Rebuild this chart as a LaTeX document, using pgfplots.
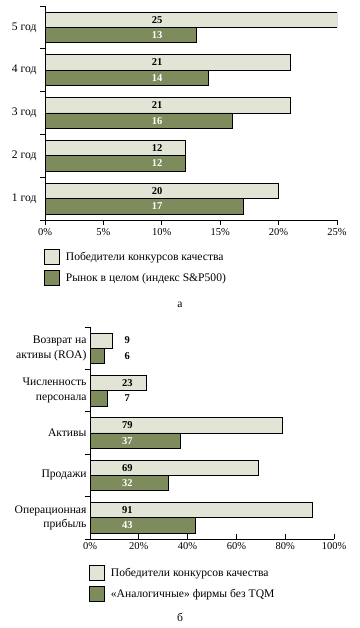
\documentclass[border=0pt]{standalone}
\usepackage{fontspec}
\setmainfont{Liberation Serif}
\usepackage{pgfplots}
\pgfplotsset{compat=1.18}
\definecolor{lightbar}{HTML}{E2E5D5}
\definecolor{darkbar}{HTML}{7E8B5C}
\newcommand\fs{\fontsize{10.5}{13}\selectfont}
\newcommand\fl{\fontsize{11.6}{14.5}\selectfont}
\pgfplotsset{
  mystyle/.style={
    scale only axis,
    ymin=0.5, ymax=5.5, xmin=0,
    axis x line=bottom, axis y line=left,
    axis line style={-, line width=0.8pt},
    ytick={1,2,3,4,5}, minor ytick={0.5,1.5,...,5.5},
    major y tick style={draw=none},
    minor y tick style={line width=0.8pt, black},
    minor tick length=5pt, major tick length=5pt,
    major x tick style={line width=0.8pt, black},
    xticklabel style={font=\fs},
    yticklabel style={font=\fl},
    /pgf/number format/assume math mode=true,
    xticklabel={\pgfmathprintnumber{\tick}\%},
    legend style={draw=none, fill=none, font=\fl, legend cell align=left,
      at={(axis description cs:0,0)}, anchor=north west, row sep=5pt,
      /tikz/every odd column/.append style={column sep=4pt}},
  },
  lbar/.style={xbar, bar width=0.36, bar shift=0.18, fill=lightbar, draw=black, line width=0.7pt,
    legend image code/.code={\draw[fill=lightbar,draw=black,line width=0.7pt] (0pt,-7.5pt) rectangle (15pt,7.5pt);}},
  dbar/.style={xbar, bar width=0.36, bar shift=-0.18, fill=darkbar, draw=black, line width=0.7pt,
    legend image code/.code={\draw[fill=darkbar,draw=black,line width=0.7pt] (0pt,-7.5pt) rectangle (15pt,7.5pt);}},
  labs/.style={draw=none, mark=none, forget plot, nodes near coords, point meta=explicit symbolic,
    every node near coord/.append style={anchor=center, font=\fs\bfseries, text=#1}},
}
\begin{document}
\begin{tikzpicture}
\useasboundingbox (0,0) rectangle (359pt,628pt);
\begin{axis}[mystyle,
  at={(45pt,408pt)}, anchor=south west, width=292pt, height=214pt,
  xmax=25, xtick={0,5,10,15,20,25}, tick align=outside,
  yticklabels={1 год,2 год,3 год,4 год,5 год},
  legend style={yshift=-27pt, xshift=-4pt}]
\addplot[lbar] coordinates {(20,1) (12,2) (21,3) (21,4) (25,5)};
\addlegendentry{Победители конкурсов качества}
\addplot[dbar] coordinates {(17,1) (12,2) (16,3) (14,4) (13,5)};
\addlegendentry{Рынок в целом (индекс S\&P500)}
\addplot[labs=black] coordinates {(9.6,5.18)[25] (9.6,4.18)[21] (9.6,3.18)[21] (9.6,2.18)[12] (9.6,1.18)[20]};
\addplot[labs=white] coordinates {(9.6,4.82)[13] (9.6,3.82)[14] (9.6,2.82)[16] (9.6,1.82)[12] (9.6,0.82)[17]};
\end{axis}
\begin{axis}[mystyle,
  at={(90pt,89pt)}, anchor=south west, width=244pt, height=212pt,
  xmax=100, xtick={0,20,40,60,80,100}, tick align=inside,
  minor y tick style={xshift=-5pt},
  yticklabels={{Операционная\\прибыль},{Продажи},{Активы},{Численность\\персонала},{Возврат на\\активы (ROA)}},
  yticklabel style={align=right},
  legend style={yshift=-24pt, xshift=-4pt}]
\addplot[lbar] coordinates {(91,1) (69,2) (79,3) (23,4) (9,5)};
\addlegendentry{Победители конкурсов качества}
\addplot[dbar] coordinates {(43,1) (32,2) (37,3) (7,4) (6,5)};
\addlegendentry{«Аналогичные» фирмы без TQM}
\addplot[labs=black] coordinates {(15.3,5.18)[9] (15.3,4.82)[6] (15.3,4.18)[23] (15.3,3.82)[7] (15.3,3.18)[79] (15.3,2.18)[69] (15.3,1.18)[91]};
\addplot[labs=white] coordinates {(15.3,2.82)[37] (15.3,1.82)[32] (15.3,0.82)[43]};
\end{axis}
\node[font=\fl] at (180pt,323pt) {а};
\node[font=\fl] at (180pt,11pt) {б};
\end{tikzpicture}
\end{document}
